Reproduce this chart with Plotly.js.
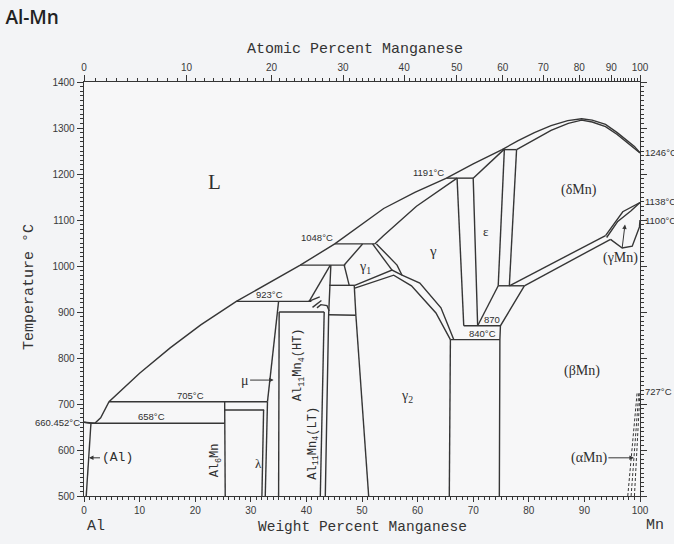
<!DOCTYPE html>
<html><head><meta charset="utf-8">
<script src="https://cdn.plot.ly/plotly-3.0.1.min.js"></script>
<style>html,body{margin:0;padding:0;background:#f3f4f6;}#chart{width:674px;height:544px;}</style>
</head><body><div id="chart"></div>
<script>
// ---- axis tick data ----
const wtTicks = [0,10,20,30,40,50,60,70,80,90,100];
const tempTicks = [500,600,700,800,900,1000,1100,1200,1300,1400];
const atomicTicks = [0,10,20,30,40,50,60,70,80,90,100];
const massAl = 26.982, massMn = 54.938;

// ---- phase boundaries: [weight % Mn, temperature °C] ----
const liquidus = [[0,660.45],[1.95,658],[3.0,670],[4.5,705],[10,767],[15.5,822],[21,872],[27.4,923],[38.9,1002],[45.1,1048],[53.9,1125],[59.5,1160],[65.2,1191],[70,1222],[75.2,1253],[78,1272],[81,1290],[84,1305],[87,1316],[89.5,1320],[91.4,1317],[93.8,1308],[95.9,1290],[97.6,1273],[99.0,1260],[100,1246]];
const deltaSolidus = [[77.8,1253],[81.1,1276],[84,1295],[87.1,1310],[89.5,1317],[91.4,1313],[93.8,1303],[95.9,1286],[97.6,1269],[99.0,1257],[100,1246]];
const alSolidus = [[0,660.45],[1.25,658]];
const alSolvus = [[1.25,658],[0.4,500]];
const iso658 = [[1.25,658],[25.3,658]];
const iso705 = [[4.5,705],[33.0,705]];
const al6MnLine = [[25.3,705],[25.4,500]];
const lambdaTop = [[25.3,687],[32.4,687]];
const lambdaLine = [[32.3,687],[32.0,500]];
const muLeft = [[33.0,705],[32.6,500]];
const muSlant = [[33.0,705],[35.0,923]];
const iso923 = [[27.4,923],[40.9,923]];
const al11Top = [[35.1,900],[43.2,900]];
const al11Left = [[35.1,900],[35.0,500]];
const al11Right = [[43.2,900],[42.5,500]];
const al11LtRight = [[44.4,1002],[44.0,894],[43.4,500]];
const iso1002 = [[38.9,1002],[47.0,1002]];
const htSlant = [[44.3,1002],[40.5,923]];
const htBump = [[41.9,909],[42.6,916],[43.7,914],[44.1,902]];
const htTick1 = [[40.4,923],[42.4,933]];
const htTick2 = [[41.1,910],[42.7,925]];
const iso958 = [[44.1,958],[48.7,958]];
const box958 = [[48.6,958],[48.9,893]];
const iso893 = [[44.0,894],[48.9,893]];
const gamma2Left = [[48.9,893],[51.2,500]];
const gamma1Left = [[46.8,1002],[50.1,1048]];
const gamma1Low = [[46.8,1002],[47.7,958]];
const iso1048 = [[45.1,1048],[52.3,1048]];
const gamma1Right = [[51.9,1048],[55.4,991]];
const gammaLeft = [[52.6,1048],[56.3,1002],[57.2,980]];
const gammaSolidus = [[52.3,1048],[53.8,1065],[59.8,1130],[64.7,1172],[67.1,1191]];
const gamma2Upper = [[48.7,958],[55.4,991],[57.2,980],[60.4,963],[64.2,909],[66.5,840]];
const gamma2Lower = [[48.7,952],[55.7,980],[58.9,957],[63.3,898],[65.9,840]];
const gammaEps1 = [[67.1,1191],[68.3,870]];
const gammaEps2 = [[70.0,1191],[70.8,870]];
const iso1191 = [[65.2,1191],[70.0,1191]];
const epsSolidus = [[70.0,1191],[75.5,1253]];
const iso1253 = [[75.2,1253],[77.8,1253]];
const epsRight = [[75.6,1253],[74.5,957]];
const deltaLeft = [[77.8,1253],[76.5,957]];
const iso957 = [[74.5,957],[79.2,957]];
const epsBottom = [[74.5,957],[70.8,870]];
const betaLeft = [[79.2,957],[74.9,870],[74.8,840],[74.7,500]];
const iso870 = [[68.3,870],[74.9,870]];
const iso840 = [[65.9,840],[74.8,840]];
const gamma2Right = [[65.9,840],[65.7,500]];
const deltaLower = [[76.5,957],[93.8,1066]];
const betaUpper = [[79.2,957],[94.7,1058]];
const deltaGamma = [[93.8,1066],[96.9,1118],[100,1138]];
const gammaMnInner = [[94.0,1062],[96.0,1097],[98.4,1120],[100,1138]];
const gammaMnLower = [[94.7,1058],[96.8,1039],[98.6,1043],[99.9,1085],[100,1100]];
const alphaDash1 = [[97.8,500],[99.5,727]];
const alphaDash2 = [[98.4,500],[99.8,727]];
const alphaDash3 = [[99.0,500],[100,727]];

const solidLines = [liquidus, deltaSolidus, alSolidus, alSolvus, iso658, iso705, al6MnLine, lambdaTop, lambdaLine, muLeft, muSlant, iso923, al11Top, al11Left, al11Right, al11LtRight, iso1002, htSlant, htBump, htTick1, htTick2, iso958, box958, iso893, gamma2Left, gamma1Left, gamma1Low, iso1048, gamma1Right, gammaLeft, gammaSolidus, gamma2Upper, gamma2Lower, gammaEps1, gammaEps2, iso1191, epsSolidus, iso1253, epsRight, deltaLeft, iso957, epsBottom, betaLeft, iso870, iso840, gamma2Right, deltaLower, betaUpper, deltaGamma, gammaMnInner, gammaMnLower];
const dashedLines = [alphaDash1, alphaDash2, alphaDash3];

const LINE = '#363636';
function atToWt(a){ return a*massMn/(a*massMn + (100-a)*massAl)*100; }
const atomicMinor = [];
for (let a = 1; a < 100; a++) if (a % 10 !== 0) atomicMinor.push(atToWt(a));

const traces = [];
solidLines.forEach(p => traces.push({x:p.map(q=>q[0]), y:p.map(q=>q[1]), mode:'lines', line:{color:LINE, width:1.4}, hoverinfo:'skip', showlegend:false}));
dashedLines.forEach(p => traces.push({x:p.map(q=>q[0]), y:p.map(q=>q[1]), mode:'lines', line:{color:LINE, width:1, dash:'3px,2px'}, hoverinfo:'skip', showlegend:false}));
traces.push({x:[0,100], y:[500,500], xaxis:'x2', mode:'lines', line:{color:'rgba(0,0,0,0)', width:0}, hoverinfo:'skip', showlegend:false});

const serif = {family:'Liberation Serif', size:14, color:'#2f2f2f'};
const sans = {family:'Liberation Sans', size:9.5, color:'#2f2f2f'};
const mono = {family:'Liberation Mono', size:12, color:'#2f2f2f'};
function lab(text, x, y, font, extra){ return Object.assign({text, x, y, xref:'x', yref:'y', showarrow:false, font}, extra||{}); }
function arrowLab(text, x, y, ax, ay, font){ return {text, x, y, xref:'x', yref:'y', showarrow:true, ax, ay, arrowhead:2, arrowsize:0.9, arrowwidth:1, arrowcolor:LINE, standoff:0, font}; }
function pap(text, x, y, font, extra){ return Object.assign({text, x, y, xref:'paper', yref:'paper', xanchor:'center', yanchor:'middle', showarrow:false, font}, extra||{}); }
const monoTitle = {family:'Liberation Mono', size:15, color:'#333'};

const annotations = [
  pap('Atomic Percent Manganese', 0.487, 1.0797, monoTitle),
  pap('Weight Percent Manganese', 0.5, -0.0745, Object.assign({}, monoTitle, {size:14.5})),
  pap('Temperature °C', -0.0971, 0.505, monoTitle, {textangle:-90}),
  pap('Al', 0.0216, -0.073, monoTitle),
  pap('Mn', 1.027, -0.072, monoTitle),
  lab('L', 23.4, 1183, Object.assign({}, serif, {size:21})),
  lab('(δMn)', 89.0, 1166, serif),
  lab('ε', 72.3, 1075, Object.assign({}, serif, {size:13})),
  lab('γ', 62.7, 1033, Object.assign({}, serif, {size:15})),
  lab('γ<sub>1</sub>', 50.6, 996, serif),
  lab('γ<sub>2</sub>', 58.1, 717, serif),
  lab('(βMn)', 89.6, 772, serif),
  lab('λ', 31.3, 571, Object.assign({}, serif, {size:13})),
  lab('Al<sub>6</sub>Mn', 23.7, 577, mono, {textangle:-90}),
  lab('Al<sub>11</sub>Mn<sub>4</sub>(HT)', 38.8, 786, mono, {textangle:-90}),
  lab('Al<sub>11</sub>Mn<sub>4</sub>(LT)', 41.2, 614, mono, {textangle:-90}),
  arrowLab('(γMn)', 97.3, 1090, -4, 33, serif),
  arrowLab('(αMn)', 98.9, 583, -45, 0, serif),
  arrowLab('(Al)', 0.9, 583, 28, 0, Object.assign({}, mono, {size:13})),
  arrowLab('μ', 34.1, 752, -29, 0, Object.assign({}, serif, {size:14})),
  lab('660.452°C', 0, 660.45, sans, {xanchor:'right', xshift:-2}),
  lab('658°C', 12.2, 658, sans, {yanchor:'bottom', yshift:-1}),
  lab('705°C', 19.2, 705, sans, {yanchor:'bottom', yshift:-1}),
  lab('923°C', 33.3, 923, sans, {yanchor:'bottom', yshift:-1}),
  lab('1048°C', 45.1, 1048, sans, {xanchor:'right', yanchor:'bottom', yshift:-1}),
  lab('1191°C', 65.2, 1191, sans, {xanchor:'right', xshift:-1, yanchor:'bottom', yshift:-2}),
  lab('870', 73.4, 870, sans, {yanchor:'bottom', yshift:-1}),
  lab('840°C', 71.6, 840, sans, {yanchor:'bottom', yshift:-1}),
  lab('1246°C', 100, 1246, sans, {xanchor:'left', xshift:3}),
  lab('1138°C', 100, 1140, sans, {xanchor:'left', xshift:3}),
  lab('1100°C', 100, 1100, sans, {xanchor:'left', xshift:3}),
  lab('727°C', 100, 727, sans, {xanchor:'left', xshift:3})
];

const tickFont = {family:'Liberation Sans', size:10, color:'#3a3a3a'};
const layout = {
  width:674, height:544,
  margin:{l:84, r:34, t:82, b:48},
  paper_bgcolor:'#f3f4f6', plot_bgcolor:'#f7f7f8',
  title:{text:'Al-Mn', x:0.008, xanchor:'left', y:0.969, yanchor:'middle', font:{family:'Open Sans', size:19, weight:600, color:'#222'}},
  showlegend:false,
  xaxis:{range:[0,100], tickmode:'array', tickvals:wtTicks, ticks:'outside', ticklen:5, tickwidth:1, tickcolor:LINE,
    minor:{dtick:1, tick0:0, ticks:'outside', ticklen:3, tickcolor:LINE},
    showline:true, linecolor:LINE, linewidth:1.3, showgrid:false, zeroline:false, tickfont:tickFont, fixedrange:true},
  xaxis2:{range:[0,100], overlaying:'x', side:'top', tickmode:'array', tickvals:atomicTicks.map(atToWt), ticktext:atomicTicks.map(String),
    ticks:'outside', ticklen:6, tickcolor:LINE, minor:{tickmode:'array', tickvals:atomicMinor, ticks:'outside', ticklen:3, tickcolor:LINE},
    showline:true, linecolor:LINE, linewidth:1.3, showgrid:false, zeroline:false, tickfont:tickFont, fixedrange:true},
  yaxis:{range:[500,1400], tickmode:'array', tickvals:tempTicks, ticks:'outside', ticklen:6, tickcolor:LINE,
    minor:{dtick:10, tick0:500, ticks:'outside', ticklen:3, tickcolor:LINE},
    showline:true, mirror:'ticks', linecolor:LINE, linewidth:1.3, showgrid:false, zeroline:false, tickfont:tickFont, fixedrange:true},
  annotations
};
Plotly.newPlot('chart', traces, layout, {staticPlot:true, displayModeBar:false});
</script></body></html>
